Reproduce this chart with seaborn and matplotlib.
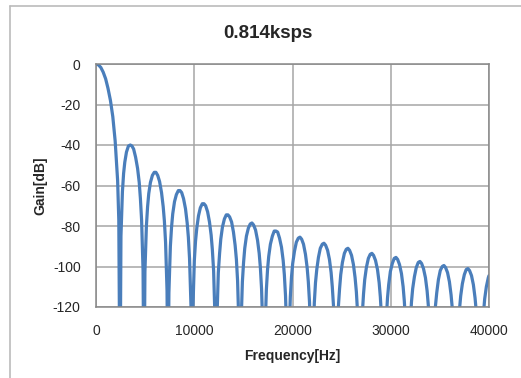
import matplotlib
matplotlib.use("Agg")
import matplotlib.pyplot as plt
from matplotlib.lines import Line2D
import seaborn as sns
import pandas as pd

# Frequency [Hz] and gain [dB] (nulls drawn below the axis floor)
main_freq = [0, 240, 490, 730, 980, 1220, 1470, 1710, 1950, 2200, 2320]
main_gain = [0, -0.4, -1.7, -4.0, -7.3, -12, -18, -26, -38, -57.5, -77]

null_freq = [2442, 4884, 7326, 9768, 12210, 14652, 17094, 19536, 21978,
             24420, 26862, 29304, 31746, 34188, 36630, 39072]
null_gain = -170

lobe_freq = [
    [2540, 2690, 2810, 2930, 3100, 3300, 3490, 3660, 3830, 4030, 4230, 4400, 4520, 4640, 4790],
    [4980, 5130, 5250, 5370, 5540, 5740, 5930, 6100, 6280, 6470, 6670, 6840, 6960, 7080, 7230],
    [7420, 7570, 7690, 7810, 7990, 8180, 8380, 8550, 8720, 8910, 9110, 9280, 9400, 9520, 9670],
    [9870, 10010, 10130, 10260, 10430, 10620, 10820, 10990, 11160, 11360, 11550, 11720, 11840, 11970, 12110],
    [12310, 12450, 12580, 12700, 12870, 13070, 13260, 13430, 13600, 13800, 13990, 14160, 14290, 14410, 14550],
    [14750, 14900, 15020, 15140, 15310, 15510, 15700, 15870, 16040, 16240, 16440, 16610, 16730, 16850, 17000],
    [17190, 17340, 17460, 17580, 17750, 17950, 18140, 18320, 18490, 18680, 18880, 19050, 19170, 19290, 19440],
    [19630, 19780, 19900, 20020, 20200, 20390, 20590, 20760, 20930, 21120, 21320, 21490, 21610, 21730, 21880],
    [22080, 22220, 22340, 22470, 22640, 22830, 23030, 23200, 23370, 23570, 23760, 23930, 24050, 24180, 24320],
    [24520, 24660, 24790, 24910, 25080, 25280, 25470, 25640, 25810, 26010, 26200, 26370, 26500, 26620, 26760],
    [26960, 27110, 27230, 27350, 27520, 27720, 27910, 28080, 28250, 28450, 28650, 28820, 28940, 29060, 29210],
    [29400, 29550, 29670, 29790, 29960, 30160, 30350, 30530, 30700, 30890, 31090, 31260, 31380, 31500, 31650],
    [31840, 31990, 32110, 32230, 32410, 32600, 32800, 32970, 33140, 33330, 33530, 33700, 33820, 33940, 34090],
    [34290, 34430, 34550, 34680, 34850, 35040, 35240, 35410, 35580, 35780, 35970, 36140, 36260, 36390, 36530],
    [36730, 36870, 37000, 37120, 37290, 37490, 37680, 37850, 38020, 38220, 38410, 38580, 38710, 38830, 38970],
    [39170, 39320, 39440, 39560, 39730, 39930, 40000],
]
lobe_gain = [
    [-85, -63, -54, -48.5, -43.5, -40.5, -40, -40.5, -42, -46, -51.5, -58.5, -66.5, -77, -102],
    [-102.5, -80, -70.5, -64, -58.5, -55, -53.5, -53.5, -55, -58, -63.5, -70.5, -77.5, -88, -112],
    [-113, -90, -80.5, -74, -68, -64.5, -62.5, -62.5, -63.5, -66.5, -71.5, -78.5, -85.5, -96, -120],
    [-120, -97, -87.5, -81, -75, -71, -69, -69, -70, -73, -78, -84.5, -91.5, -102, -125.5],
    [-126, -103, -93.5, -86.5, -80.5, -76.5, -74.5, -74.5, -75.5, -78, -83, -89.5, -96.5, -107, -130.5],
    [-131, -107.5, -98, -91, -85, -81, -79, -78.5, -79.5, -82, -87, -93.5, -100.5, -111, -134.5],
    [-135, -111.5, -101.5, -95, -89, -85, -82.5, -82.5, -83, -86, -90.5, -97, -104, -114.5, -138],
    [-138, -115, -105, -98.5, -92.5, -88, -86, -85.5, -86.5, -89, -94, -100.5, -107.5, -117.5, -141],
    [-141, -118, -108, -101.5, -95.5, -91, -89, -88.5, -89.5, -92, -96.5, -103, -110, -120, -144],
    [-144, -120.5, -111, -104, -98, -93.5, -91.5, -91, -92, -94.5, -99, -105.5, -112.5, -122.5, -146],
    [-146.5, -123, -113.5, -106.5, -100.5, -96, -94, -93.5, -94.5, -97, -101.5, -108, -115, -125, -148.5],
    [-148.5, -125.5, -115.5, -109, -102.5, -98.5, -96, -95.5, -96.5, -99, -103.5, -110, -117, -127, -150.5],
    [-151, -127.5, -117.5, -111, -105, -100.5, -98, -97.5, -98.5, -101, -105.5, -112, -119, -129, -152.5],
    [-153, -129.5, -119.5, -113, -106.5, -102, -100, -99.5, -100.5, -103, -107.5, -114, -120.5, -131, -154.5],
    [-154.5, -131, -121, -114.5, -108.5, -104, -101.5, -101, -102, -104.5, -109, -115.5, -122.5, -132.5, -156],
    [-156, -132.5, -123, -116, -110, -105.5, -104.5],
]

x_ticks = [0, 10000, 20000, 30000, 40000]
y_ticks = [0, -20, -40, -60, -80, -100, -120]
title = "0.814ksps"
x_label = "Frequency[Hz]"
y_label = "Gain[dB]"

freq = list(main_freq)
gain = list(main_gain)
for nf, lf, lg in zip(null_freq, lobe_freq, lobe_gain):
    freq.append(nf)
    gain.append(null_gain)
    freq.extend(lf)
    gain.extend(lg)
df = pd.DataFrame({"freq": freq, "gain": gain})

sns.set_style("white")
plt.rcParams["font.family"] = ["Liberation Sans", "DejaVu Sans"]

fig = plt.figure(figsize=(5.21, 3.78), dpi=100)
ax = fig.add_axes([96 / 521, 1 - 307 / 378, (489 - 96) / 521, (307 - 64) / 378])

sns.lineplot(data=df, x="freq", y="gain", ax=ax, sort=False, estimator=None,
             color="#4A7EBB", linewidth=2.3)

ax.set_xlim(0, 40000)
ax.set_ylim(-120, 0)
ax.set_xticks(x_ticks)
ax.set_yticks(y_ticks)
ax.set_xticklabels([str(v) for v in x_ticks], fontsize=10)
ax.set_yticklabels([str(v) for v in y_ticks], fontsize=10)
ax.grid(True, color="#A6A6A6", linewidth=1.1)
ax.set_axisbelow(True)
for s in ax.spines.values():
    s.set_color("#888888")
    s.set_linewidth(1.1)
ax.tick_params(axis="x", length=0, pad=12)
ax.tick_params(axis="y", length=3, color="#888888", pad=8)
ax.set_xlabel(x_label, fontsize=10, fontweight="bold", labelpad=8)
ax.set_ylabel(y_label, fontsize=10, fontweight="bold", labelpad=4)

fig.text(268 / 521, 1 - 33 / 378, title, ha="center", va="center",
         fontsize=13.5, fontweight="bold")

# outer chart border (top and left visible)
fig.add_artist(Line2D([9.5 / 521, 1], [1 - 5.5 / 378, 1 - 5.5 / 378],
                      transform=fig.transFigure, color="#BBBBBB", linewidth=1.2))
fig.add_artist(Line2D([9.5 / 521, 9.5 / 521], [0, 1 - 5.5 / 378],
                      transform=fig.transFigure, color="#BBBBBB", linewidth=1.2))

fig.savefig("out.png", dpi=100)
